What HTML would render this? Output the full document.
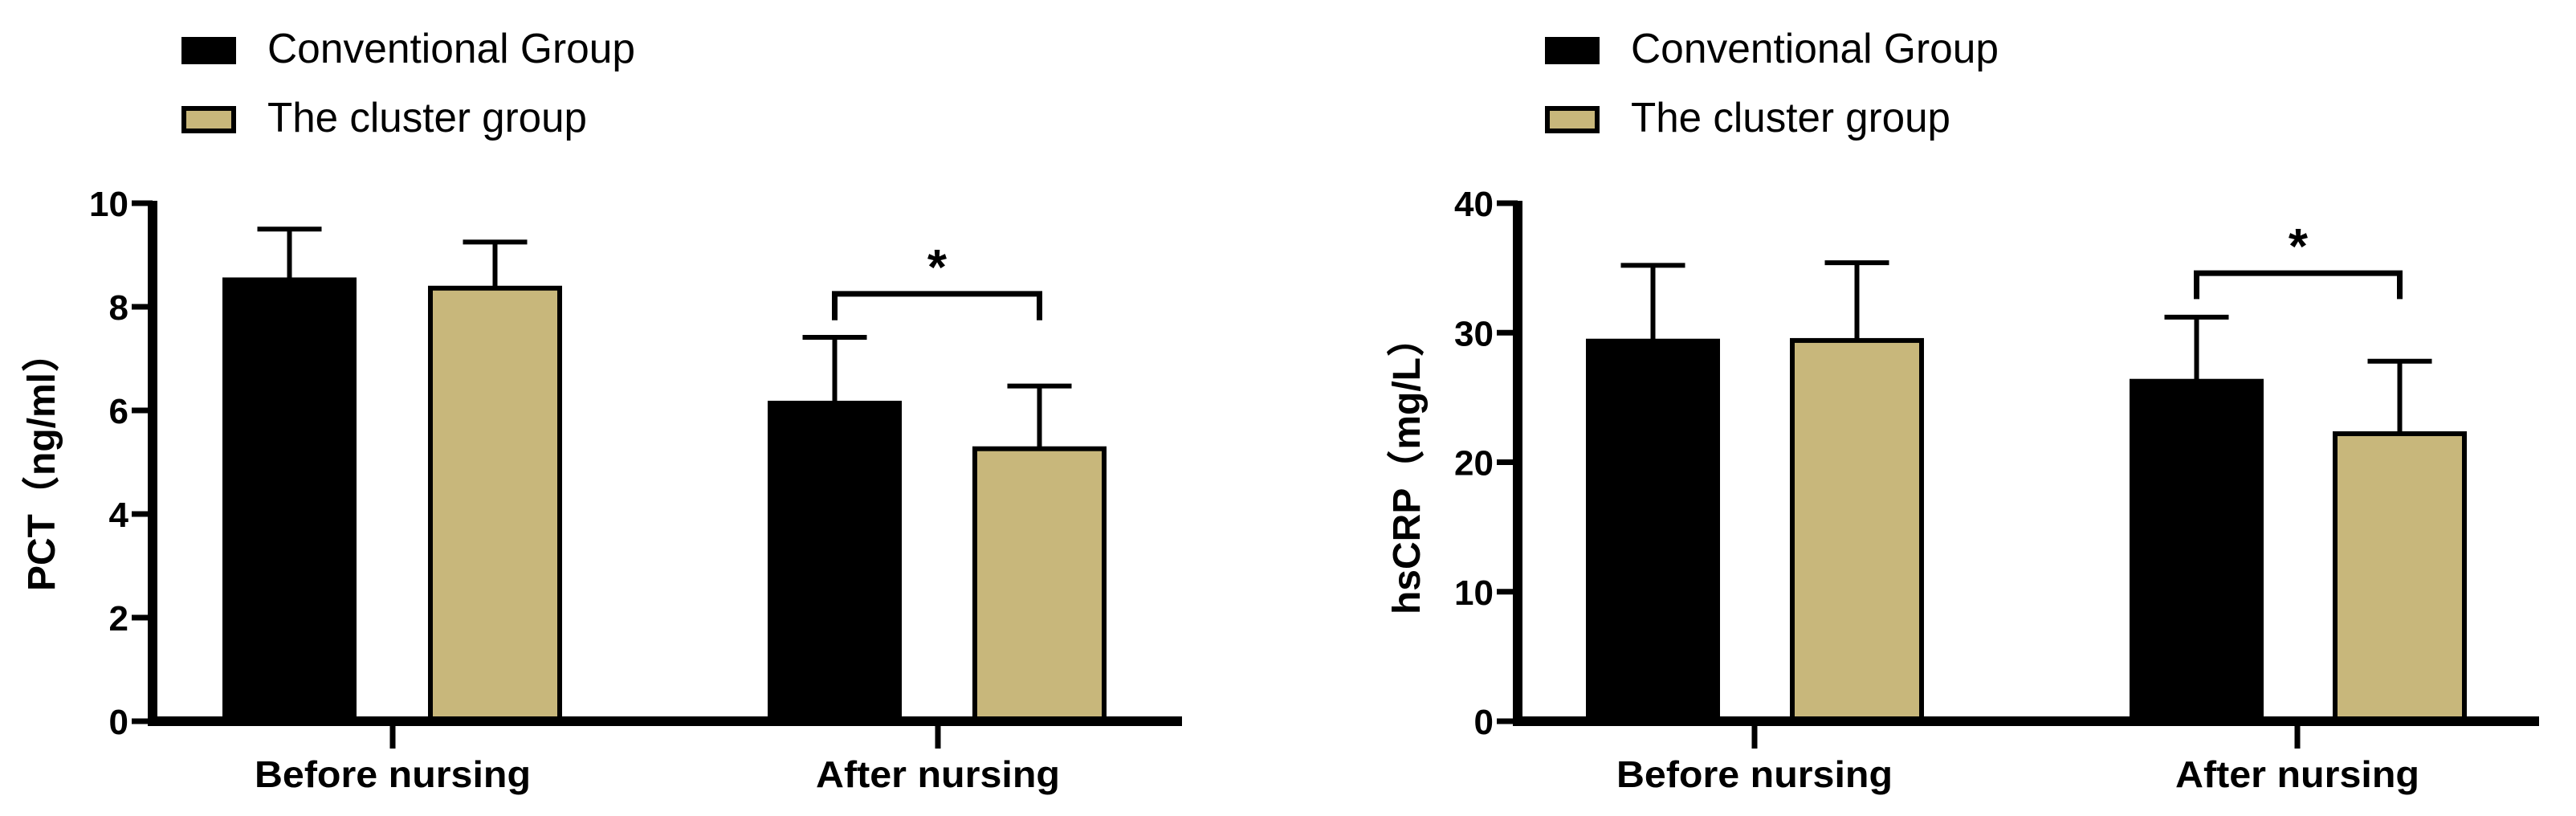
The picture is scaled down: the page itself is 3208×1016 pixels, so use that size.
<!DOCTYPE html>
<html><head><meta charset="utf-8"><style>html,body{margin:0;padding:0;background:#fff}svg{display:block}</style></head>
<body>
<svg id="c" width="3208" height="1016" viewBox="0 0 3208 1016" xmlns="http://www.w3.org/2000/svg"></svg>
<script>
const categories = ["Before nursing", "After nursing"];
const seriesNames = ["Conventional Group", "The cluster group"];
const pctMeans = [[8.52, 6.14], [8.36, 5.26]];
const pctErr = [[9.50, 7.41], [9.25, 6.47]];
const pctTicks = [0, 2, 4, 6, 8, 10];
const crpMeans = [[29.35, 26.25], [29.4, 22.2]];
const crpErr = [[35.2, 31.2], [35.4, 27.8]];
const crpTicks = [0, 10, 20, 30, 40];
const pctSig = [8.25, 7.74];
const crpSig = [34.6, 32.6];

const NS = "http://www.w3.org/2000/svg";
const svg = document.getElementById('c');
const colors = ["#000000", "#c8b77b"];
function mk(tag, attrs, parent, text) {
  const e = document.createElementNS(NS, tag);
  for (const k in attrs) e.setAttribute(k, attrs[k]);
  if (text !== undefined) e.textContent = text;
  (parent || svg).appendChild(e);
  return e;
}
function drawPanel(cfg) {
  const g = mk('g', {});
  
  
  const y = v => cfg.y0 - (v / cfg.max) * (cfg.y0 - cfg.yTop);
  seriesNames.forEach((s, i) => {
    const ly = 46 + i * 86;
    const r = mk('rect', {x: cfg.legX + 3, y: ly + 3, width: 62, height: 28, fill: colors[i], stroke: '#000', 'stroke-width': 6}, g);
    
    
    const t = mk('text', {x: cfg.legX + 107, y: ly + 32, 'font-family': 'Liberation Sans, sans-serif', 'font-size': 52, textLength: i === 0 ? 458 : 398, lengthAdjust: 'spacingAndGlyphs'}, g, s);
    
    
  });
  categories.forEach((c, ci) => {
    seriesNames.forEach((s, si) => {
      const bx = cfg.barX[ci][si];
      const m = cfg.means[si][ci], e = cfg.err[si][ci];
      const cx = bx + cfg.bw / 2;
      const er = mk('line', {x1: cx, x2: cx, y1: y(m), y2: y(e), stroke: '#000', 'stroke-width': 6}, g);
      
      
      const cap = mk('line', {x1: cx - 40, x2: cx + 40, y1: y(e), y2: y(e), stroke: '#000', 'stroke-width': 6}, g);
      
      
      const r = mk('rect', {x: bx + 3, y: y(m), width: cfg.bw - 6, height: cfg.y0 - y(m), fill: colors[si], stroke: '#000', 'stroke-width': 6}, g);
      
      
    });
    const tk = mk('line', {x1: cfg.catX[ci], x2: cfg.catX[ci], y1: cfg.y0, y2: cfg.y0 + 34, stroke: '#000', 'stroke-width': 7}, g);
    
    
    const lt = mk('text', {x: cfg.catX[ci], y: 980, 'text-anchor': 'middle', 'font-family': 'Liberation Sans, sans-serif', 'font-weight': 'bold', 'font-size': 46, textLength: ci === 0 ? 344 : 304, lengthAdjust: 'spacingAndGlyphs'}, g, c);
    
    
  });
  const ya = mk('line', {x1: cfg.ax, x2: cfg.ax, y1: cfg.yTop - 3, y2: cfg.y0 + 6, stroke: '#000', 'stroke-width': 12}, g);
  
  
  const xa = mk('line', {x1: cfg.ax - 6, x2: cfg.axEnd, y1: cfg.y0, y2: cfg.y0, stroke: '#000', 'stroke-width': 12}, g);
  
  
  cfg.ticks.forEach(v => {
    const l = mk('line', {x1: cfg.ax - 26, x2: cfg.ax, y1: y(v), y2: y(v), stroke: '#000', 'stroke-width': 7}, g);
    
    
    const t = mk('text', {x: cfg.ax - 30, y: y(v) + 16, 'text-anchor': 'end', 'font-family': 'Liberation Sans, sans-serif', 'font-weight': 'bold', 'font-size': 44}, g, String(v));
    
    
  });
  const yl = mk('text', {x: 0, y: 0, transform: `translate(${cfg.labX},${cfg.labY}) rotate(-90)`, 'text-anchor': 'middle', 'font-family': 'Liberation Sans, Noto Sans CJK SC, sans-serif', 'font-weight': 'bold', 'font-size': 48}, g, cfg.label);
  
  
  const x1 = cfg.barX[1][0] + cfg.bw / 2, x2 = cfg.barX[1][1] + cfg.bw / 2;
  const br = mk('polyline', {points: `${x1},${y(cfg.sig[1])} ${x1},${y(cfg.sig[0])} ${x2},${y(cfg.sig[0])} ${x2},${y(cfg.sig[1])}`, fill: 'none', stroke: '#000', 'stroke-width': 7}, g);
  
  
  const st = mk('text', {x: (x1 + x2) / 2, y: y(cfg.sig[0]) - 12, 'text-anchor': 'middle', 'font-family': 'Liberation Sans, sans-serif', 'font-weight': 'bold', 'font-size': 62}, g, '*');
  
  
}
drawPanel({name: 'pct-panel', legX: 226, ax: 190, axEnd: 1472, y0: 898, yTop: 253, max: 10, ticks: pctTicks,
  means: pctMeans, err: pctErr, sig: pctSig, bw: 167, barX: [[277, 533], [956, 1211]], catX: [489, 1168],
  label: 'PCT（ng/ml）', labX: 68, labY: 576});
drawPanel({name: 'hscrp-panel', legX: 1924, ax: 1890, axEnd: 3162, y0: 898, yTop: 253, max: 40, ticks: crpTicks,
  means: crpMeans, err: crpErr, sig: crpSig, bw: 167, barX: [[1975, 2229], [2652, 2905]], catX: [2185, 2861],
  label: 'hsCRP（mg/L）', labX: 1768, labY: 581});
</script>
</body></html>
